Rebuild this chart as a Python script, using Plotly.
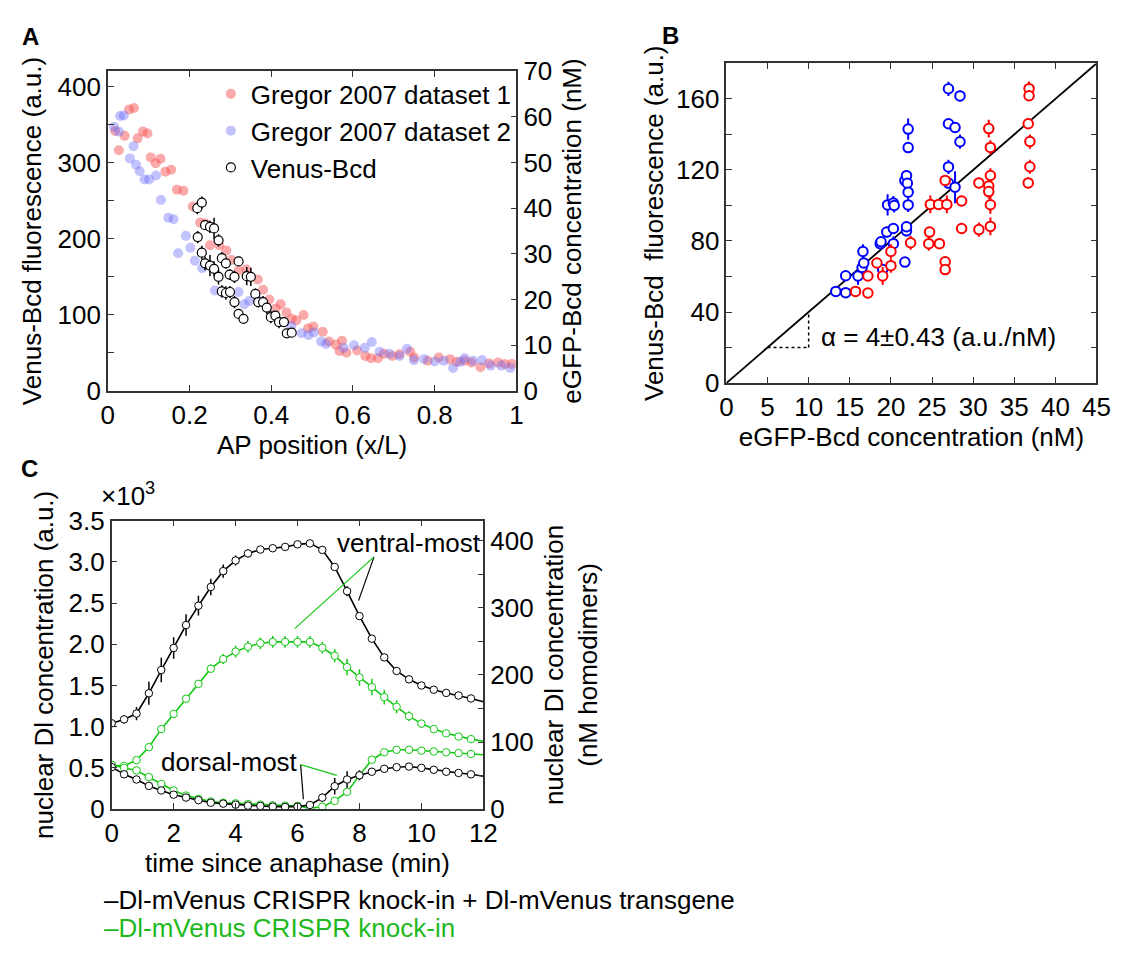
import plotly.graph_objects as go

# ---------------- Panel A: Bcd gradient along the AP axis ----------------
gregor1_x = [0.018, 0.027, 0.041, 0.052, 0.064, 0.073, 0.086, 0.097, 0.105, 0.117, 0.129, 0.141,
             0.155, 0.169, 0.185, 0.208, 0.226, 0.239, 0.250, 0.273, 0.290, 0.303, 0.320, 0.339,
             0.367, 0.380, 0.395, 0.411, 0.423, 0.437, 0.450, 0.461, 0.479, 0.490, 0.503, 0.526,
             0.541, 0.558, 0.567, 0.573, 0.584, 0.610, 0.630, 0.644, 0.661, 0.676, 0.696, 0.714,
             0.740, 0.750, 0.783, 0.810, 0.837, 0.854, 0.873, 0.890, 0.912, 0.933, 0.955, 0.972, 0.989]
gregor1_y = [341.5, 316, 335, 369.5, 371.6, 331.7, 340.6, 338, 306.7, 299, 305, 288,
             290.6, 264.3, 263, 242.2, 221, 219.7, 191.3, 191.3, 184.5, 171.8, 158.2, 159.5,
             146.3, 132.8, 120, 108.2, 113.7, 103, 94.6, 92.5, 99.7, 81.9, 84.4, 77.6,
             64.9, 60.7, 52.2, 65.7, 50, 53, 45.8, 42.8, 42.8, 48.8, 45.8, 47.9,
             51.3, 43.7, 39.4, 43.7, 41.6, 38.2, 39.4, 37.3, 31, 36, 37.3, 35.2, 35.2]

gregor2_x = [0.015, 0.027, 0.030, 0.039, 0.054, 0.063, 0.069, 0.078, 0.090, 0.101, 0.118, 0.130,
             0.148, 0.161, 0.172, 0.191, 0.202, 0.213, 0.231, 0.262, 0.282, 0.320, 0.334, 0.346,
             0.367, 0.399, 0.431, 0.449, 0.474, 0.491, 0.504, 0.522, 0.534, 0.577, 0.603, 0.629,
             0.646, 0.665, 0.689, 0.714, 0.732, 0.749, 0.774, 0.800, 0.822, 0.845, 0.862, 0.873,
             0.894, 0.916, 0.937, 0.963, 0.985]
gregor2_y = [347, 340.6, 361, 361.8, 305.4, 321.5, 297, 288.4, 277.8, 277.8, 283, 250.7,
             227.4, 225.3, 180.7, 203.6, 188, 171, 161.2, 131.9, 128.5, 129.8, 113.7, 117.9,
             120, 98.8, 90.3, 85.3, 75.5, 73.4, 76.8, 64.9, 61.5, 56.4, 59.8, 56.4,
             64, 51.3, 48.8, 45.8, 55.1, 40.3, 41.6, 38.6, 39.4, 30.1, 37.8, 42.8,
             39.4, 40.3, 33.1, 33.1, 30.1]

venus_x = [0.219, 0.230, 0.220, 0.230, 0.238, 0.250, 0.260, 0.271, 0.238, 0.250, 0.260, 0.271,
           0.279, 0.289, 0.298, 0.310, 0.320, 0.279, 0.289, 0.299, 0.310, 0.320, 0.332, 0.340,
           0.350, 0.361, 0.368, 0.380, 0.389, 0.399, 0.410, 0.419, 0.431, 0.438, 0.450]
venus_y = [240, 247.3, 202, 181.5, 217.6, 215.5, 213.4, 197.7, 167.5, 164.6, 160.3, 149.7,
           174.3, 167.5, 152.7, 149.7, 170, 130.6, 128.5, 129.8, 116.6, 101, 94.6, 150.6,
           149.7, 127.3, 116.6, 116.6, 109.4, 96.7, 98.8, 90.3, 90.3, 75.5, 76.4]
venus_err = [8, 8, 8, 9, 6, 8, 14, 8, 9, 14, 10, 10,
             8, 7, 7, 8, 6, 8, 9, 8, 8, 5, 5, 12,
             12, 7, 7, 8, 8, 8, 6, 8, 6, 5, 5]

# ---------------- Panel B: Venus-Bcd vs eGFP-Bcd ----------------
blueB_x = [13.3, 14.5, 14.5, 16.0, 16.5, 16.7, 16.6, 18.7, 18.8, 19.0, 19.5, 20.3, 20.3, 19.6, 20.3, 20.4,
           21.7, 21.9, 21.9, 21.7, 21.9, 22.0, 22.1, 22.1, 22.1, 22.1, 27.0, 28.4, 27.0, 27.8, 28.4,
           27.0, 27.0, 27.8]
blueB_y = [51.6, 50.9, 60.4, 60.3, 65.0, 67.6, 74.1, 78.5, 79.5, 63.9, 85.0, 87.0, 78.5, 100.3, 101.4, 100.0,
           68.1, 85.7, 88.0, 114.0, 116.8, 112.5, 107.5, 100.3, 132.6, 143.0, 165.7, 161.7, 146.0, 143.9, 135.9,
           121.7, 112.6, 110.3]
blueB_err = [3, 2, 2, 5, 3, 3, 4, 3, 3, 2, 3, 2, 4, 6, 4, 4,
             2, 3, 3, 2, 3, 3, 3, 4, 3, 6, 4, 3, 2, 3, 4,
             4, 3, 9]

redB_x = [15.7, 17.2, 17.2, 18.3, 19.0, 20.0, 20.0, 22.4, 24.7, 24.6, 24.8, 25.8, 25.9, 26.6, 26.6, 26.8,
          26.6, 28.6, 28.6, 30.7, 30.7, 31.9, 32.1, 32.1, 31.9, 31.9, 32.1, 32.1, 36.8, 36.8, 36.7,
          36.9, 36.9, 36.7]
redB_y = [51.6, 50.7, 60.3, 67.6, 60.3, 66.1, 74.1, 79.0, 85.0, 78.5, 100.6, 100.6, 78.5, 68.3, 63.9, 100.6,
          114.1, 102.5, 87.0, 112.7, 86.4, 143.3, 132.7, 116.9, 110.9, 107.8, 100.4, 88.2, 165.8, 161.8, 146.0,
          136.0, 121.8, 112.7]
redB_err = [3, 2, 2, 2, 5, 4, 4, 4, 3, 4, 5, 3, 3, 2, 2, 5,
            2, 3, 3, 3, 4, 5, 4, 4, 3, 4, 5, 5, 4, 3, 3,
            4, 4, 3]

alpha = 4.0          # a.u./nM, slope of the calibration line
alpha_err = 0.43

# ---------------- Panel C: nuclear Dl dynamics ----------------
time_min = [0.0, 0.4, 0.8, 1.2, 1.6, 2.0, 2.4, 2.8, 3.2, 3.6, 4.0, 4.4, 4.8, 5.2, 5.6, 6.0,
            6.4, 6.8, 7.2, 7.6, 8.0, 8.4, 8.8, 9.2, 9.6, 10.0, 10.4, 10.8, 11.2, 11.6, 12.0]

ventral_two = [1.042, 1.089, 1.160, 1.406, 1.688, 1.955, 2.233, 2.468, 2.695, 2.887, 3.016, 3.102,
               3.149, 3.165, 3.181, 3.212, 3.224, 3.145, 2.938, 2.644, 2.342, 2.068, 1.841, 1.676,
               1.575, 1.500, 1.449, 1.410, 1.379, 1.343, 1.304]
ventral_two_err = [0.02, 0.05, 0.08, 0.14, 0.15, 0.13, 0.13, 0.12, 0.10, 0.08, 0.06, 0.05,
                   0.03, 0.02, 0.02, 0.02, 0.02, 0.03, 0.03, 0.06, 0.04, 0.03, 0.02, 0.02,
                   0.02, 0.02, 0.02, 0.03, 0.03, 0.03, 0.03]

ventral_ki = [0.529, 0.525, 0.595, 0.752, 0.971, 1.155, 1.340, 1.520, 1.704, 1.821, 1.911, 1.970,
              2.013, 2.029, 2.029, 2.029, 2.029, 1.958, 1.861, 1.723, 1.598, 1.481, 1.359, 1.242,
              1.128, 1.038, 0.971, 0.920, 0.881, 0.850, 0.823]
ventral_ki_err = [0.01, 0.01, 0.02, 0.02, 0.03, 0.03, 0.03, 0.04, 0.05, 0.06, 0.07, 0.07,
                  0.07, 0.07, 0.07, 0.07, 0.07, 0.07, 0.08, 0.10, 0.10, 0.10, 0.09, 0.08,
                  0.06, 0.05, 0.03, 0.03, 0.03, 0.02, 0.02]

dorsal_two = [0.510, 0.423, 0.360, 0.282, 0.227, 0.176, 0.141, 0.110, 0.078, 0.067, 0.055, 0.043,
              0.039, 0.031, 0.027, 0.031, 0.051, 0.140, 0.278, 0.360, 0.411, 0.454, 0.490, 0.509,
              0.517, 0.501, 0.478, 0.454, 0.439, 0.423, 0.400]
dorsal_two_err = [0.01, 0.01, 0.01, 0.01, 0.01, 0.01, 0.01, 0.01, 0.01, 0.01, 0.01, 0.01,
                  0.01, 0.01, 0.01, 0.01, 0.02, 0.05, 0.10, 0.10, 0.06, 0.04, 0.03, 0.02,
                  0.02, 0.02, 0.02, 0.02, 0.02, 0.02, 0.02]

dorsal_ki = [0.540, 0.500, 0.470, 0.390, 0.306, 0.227, 0.165, 0.125, 0.094, 0.078, 0.071, 0.063,
             0.055, 0.047, 0.043, 0.039, 0.012, 0.030, 0.100, 0.210, 0.410, 0.600, 0.690, 0.720,
             0.720, 0.710, 0.700, 0.690, 0.680, 0.670, 0.660]
dorsal_ki_err = [0.01, 0.01, 0.01, 0.01, 0.01, 0.01, 0.01, 0.01, 0.01, 0.01, 0.01, 0.01,
                 0.01, 0.01, 0.01, 0.01, 0.01, 0.01, 0.02, 0.03, 0.03, 0.02, 0.02, 0.02,
                 0.01, 0.01, 0.01, 0.01, 0.01, 0.01, 0.01]

au_per_nM_dl = 8.14   # conversion between the two y scales of panel C (a.u. x10^3 -> nM)

# ---------------- styling ----------------
FONT = "Liberation Sans, Arial, sans-serif"
FS = 26
AX = "#333333"
RED_A = "rgba(245,85,85,0.5)"
BLUE_A = "rgba(110,110,250,0.42)"
GREEN = "rgb(20,200,20)"
GREEN_TXT = "rgb(30,185,30)"

fig = go.Figure()

# Panel A
fig.add_trace(go.Scatter(x=gregor1_x, y=gregor1_y, mode="markers", name="Gregor 2007 dataset 1",
                         marker=dict(size=10, color=RED_A, line=dict(width=0)),
                         xaxis="x", yaxis="y", legend="legend"))
fig.add_trace(go.Scatter(x=gregor2_x, y=gregor2_y, mode="markers", name="Gregor 2007 dataset 2",
                         marker=dict(size=10, color=BLUE_A, line=dict(width=0)),
                         xaxis="x", yaxis="y", legend="legend"))
fig.add_trace(go.Scatter(x=venus_x, y=venus_y, mode="markers", name="Venus-Bcd",
                         marker=dict(size=9, color="white", line=dict(width=1.2, color="black")),
                         error_y=dict(type="data", array=venus_err, thickness=1.5, width=0, color="black"),
                         xaxis="x", yaxis="y", legend="legend"))
# empty trace so the secondary (nM) axis of panel A is drawn
fig.add_trace(go.Scatter(x=[], y=[], mode="markers", showlegend=False, xaxis="x", yaxis="y2"))

# Panel B
fig.add_trace(go.Scatter(x=[0, 45], y=[0, alpha * 45], mode="lines", showlegend=False,
                         line=dict(color="black", width=1.8), xaxis="x2", yaxis="y3"))
fig.add_trace(go.Scatter(x=blueB_x, y=blueB_y, mode="markers", showlegend=False,
                         marker=dict(size=9.5, color="white", line=dict(width=2, color="rgb(0,0,255)")),
                         error_y=dict(type="data", array=blueB_err, thickness=2, width=0, color="rgb(0,0,255)"),
                         xaxis="x2", yaxis="y3"))
fig.add_trace(go.Scatter(x=redB_x, y=redB_y, mode="markers", showlegend=False,
                         marker=dict(size=9.5, color="white", line=dict(width=2, color="rgb(255,0,0)")),
                         error_y=dict(type="data", array=redB_err, thickness=2, width=0, color="rgb(255,0,0)"),
                         xaxis="x2", yaxis="y3"))

# Panel C
def add_series(values, errors, color):
    fig.add_trace(go.Scatter(x=time_min, y=values, mode="lines", showlegend=False,
                             line=dict(color=color, width=1.6), xaxis="x3", yaxis="y4"))
    fig.add_trace(go.Scatter(x=time_min[:-1], y=values[:-1], mode="markers", showlegend=False,
                             marker=dict(size=7.5, color="white", line=dict(width=1, color=color)),
                             error_y=dict(type="data", array=errors[:-1], thickness=1.5, width=0, color=color),
                             xaxis="x3", yaxis="y4"))

add_series(ventral_ki, ventral_ki_err, GREEN)
add_series(dorsal_ki, dorsal_ki_err, GREEN)
add_series(ventral_two, ventral_two_err, "black")
add_series(dorsal_two, dorsal_two_err, "black")
# empty trace so the secondary (nM homodimers) axis of panel C is drawn
fig.add_trace(go.Scatter(x=[], y=[], mode="markers", showlegend=False, xaxis="x3", yaxis="y5"))

tickfont = dict(family=FONT, size=FS, color="black")
common = dict(showline=True, linecolor=AX, linewidth=1.5, ticks="inside", ticklen=6,
              tickcolor=AX, tickwidth=1.2, tickfont=tickfont, showgrid=False, zeroline=False,
              title_font=dict(family=FONT, size=FS, color="black"))

fig.update_layout(
    width=1135, height=954, margin=dict(l=0, r=0, t=0, b=0),
    paper_bgcolor="white", plot_bgcolor="white",
    font=dict(family=FONT, size=FS, color="black"),
    hovermode=False,
    # Panel A axes
    xaxis=dict(domain=[0.0905, 0.4573], range=[0, 1], anchor="y", mirror="ticks",
               tickvals=[0, 0.2, 0.4, 0.6, 0.8, 1], ticktext=["0", "0.2", "0.4", "0.6", "0.8", "1"],
               title=dict(text="AP position (x/L)", standoff=0), **common),
    yaxis=dict(domain=[0.5933, 0.9392], range=[0, 420], anchor="x", dtick=100,
               minor=dict(dtick=50, ticks="inside", ticklen=6, tickcolor=AX),
               title=dict(text="Venus-Bcd fluorescence (a.u.)", standoff=8), **common),
    yaxis2=dict(range=[0, 70], anchor="x", overlaying="y", side="right", dtick=10,
                title=dict(text="eGFP-Bcd concentration (nM)", standoff=11), **common),
    # Panel B axes
    xaxis2=dict(domain=[0.6458, 0.978], range=[0, 45], anchor="y3", dtick=5, mirror="ticks",
                title=dict(text="eGFP-Bcd concentration (nM)", standoff=6), **common),
    yaxis3=dict(domain=[0.6017, 0.9476], range=[0, 180], anchor="x2", dtick=40, mirror="ticks",
                minor=dict(dtick=20, ticks="inside", ticklen=6, tickcolor=AX),
                title=dict(text="Venus-Bcd\u00a0 fluorescence (a.u.)", standoff=5), **common),
    # Panel C axes
    xaxis3=dict(domain=[0.094, 0.4276], range=[0, 12], anchor="y4", dtick=2, mirror="ticks",
                title=dict(text="time since anaphase (min)", standoff=0), **common),
    yaxis4=dict(domain=[0.1405, 0.4528], range=[0, 3.5], anchor="x3",
                tickvals=[0, 0.5, 1.0, 1.5, 2.0, 2.5, 3.0, 3.5],
                ticktext=["0", "0.5", "1.0", "1.5", "2.0", "2.5", "3.0", "3.5"],
                title=dict(text="nuclear Dl concentration (a.u.)", standoff=8), **common),
    yaxis5=dict(range=[0, 3500 / au_per_nM_dl], anchor="x3", overlaying="y4", side="right", dtick=100,
                minor=dict(dtick=50, ticks="inside", ticklen=6, tickcolor=AX),
                title=dict(text="nuclear Dl concentration<br>(nM homodimers)", standoff=12), **common),
    legend=dict(x=0.183, y=0.94, xanchor="left", yanchor="top", bgcolor="rgba(0,0,0,0)",
                font=dict(family=FONT, size=FS, color="black"), tracegroupgap=0,
                itemwidth=30),
)

# Slope triangle on panel B
fig.add_shape(type="line", xref="x2", yref="y3", x0=5, x1=10, y0=alpha * 5, y1=alpha * 5,
              line=dict(color="black", width=1.5, dash="dot"))
fig.add_shape(type="line", xref="x2", yref="y3", x0=10, x1=10, y0=alpha * 5, y1=alpha * 10,
              line=dict(color="black", width=1.5, dash="dot"))

# Pointer lines on panel C
for (x0, y0, x1, y1, c) in [(8.47, 3.06, 7.97, 2.53, "black"), (8.47, 3.06, 5.91, 2.19, GREEN),
                            (6.10, 0.54, 6.19, 0.12, "black"), (6.10, 0.54, 7.27, 0.41, GREEN)]:
    fig.add_shape(type="line", xref="x3", yref="y4", x0=x0, y0=y0, x1=x1, y1=y1,
                  line=dict(color=c, width=1.2))

ann = [
    dict(text="<b>A</b>", x=24 / 1135, y=1 - 22 / 954, xref="paper", yref="paper",
         xanchor="center", yanchor="middle", showarrow=False, font=dict(size=24)),
    dict(text="<b>B</b>", x=676 / 1135, y=1 - 21 / 954, xref="paper", yref="paper",
         xanchor="center", yanchor="middle", showarrow=False, font=dict(size=24)),
    dict(text="<b>C</b>", x=23 / 1135, y=1 - 468 / 954, xref="paper", yref="paper",
         xanchor="center", yanchor="middle", showarrow=False, font=dict(size=24)),
    dict(text="\u00d710<sup>3</sup>", x=94 / 1135, y=1 - 495 / 954, xref="paper", yref="paper",
         xanchor="left", yanchor="middle", showarrow=False),
    dict(text=f"\u03b1 = {alpha:g}\u00b1{alpha_err:g} (a.u./nM)", x=11.3, y=26, xref="x2", yref="y3",
         xanchor="left", yanchor="middle", showarrow=False),
    dict(text="ventral-most", x=7.2, y=3.23, xref="x3", yref="y4",
         xanchor="left", yanchor="middle", showarrow=False),
    dict(text="dorsal-most", x=1.53, y=0.57, xref="x3", yref="y4",
         xanchor="left", yanchor="middle", showarrow=False),
    dict(text="\u2013Dl-mVenus CRISPR knock-in + Dl-mVenus transgene", x=97 / 1135, y=1 - 914 / 954,
         xref="paper", yref="paper", xanchor="left", yanchor="middle", showarrow=False,
         font=dict(color="black")),
    dict(text="\u2013Dl-mVenus CRISPR knock-in", x=97 / 1135, y=1 - 943 / 954,
         xref="paper", yref="paper", xanchor="left", yanchor="middle", showarrow=False,
         font=dict(color=GREEN_TXT)),
]
for a in ann:
    a.setdefault("font", {})
    a["font"] = dict(family=FONT, size=a["font"].get("size", FS), color=a["font"].get("color", "black"))
fig.update_layout(annotations=ann)

fig.write_html("out.html")
